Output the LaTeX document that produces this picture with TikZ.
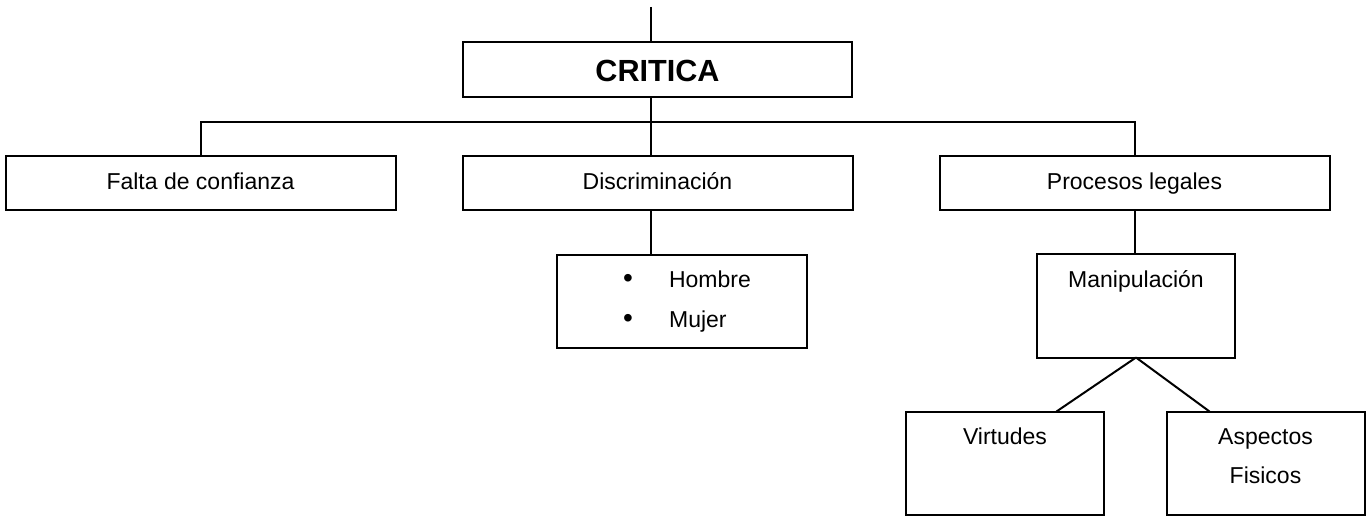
\documentclass[tikz,border=0pt]{standalone}
\usepackage{fontspec}
\setmainfont{Liberation Sans}
\usetikzlibrary{positioning}

\newcommand{\vineta}{\hspace*{5pt}\makebox[23pt][l]{\fontsize{14}{20}\selectfont\textbullet}}

\begin{document}
\begin{tikzpicture}[x=0.5pt,y=-0.5pt,line width=1pt,tema/.style={rectangle, draw, outer sep=0pt, minimum width=194.75pt, minimum height=27.5pt, text height=12.5pt, text depth=0pt, font=\fontsize{15.3}{18}\selectfont\bfseries},rama/.style={rectangle, draw, outer sep=0pt, minimum width=195pt, minimum height=27pt, text height=9pt, text depth=2pt, font=\fontsize{11.5}{14}\selectfont},puntos/.style={rectangle, draw, outer sep=0pt, minimum width=125pt, minimum height=46.5pt, align=left, font=\fontsize{11.5}{20}\selectfont},hoja/.style={rectangle, draw, outer sep=0pt, minimum width=99pt, inner ysep=0pt, text height=16.5pt, text depth=35.25pt, align=center, font=\fontsize{11.5}{19.5}\selectfont},]
                    \useasboundingbox (0,0) rectangle (1372,519);
                    \coordinate (entrada) at (651,7);
                    \coordinate (bus) at (651,122);
                    \node[tema] (critica) at (657.5,69.5) {CRITICA};
                    \node[rama, below=29.5pt of critica] (disc) {Discriminación};
                    \node[rama, left=33.5pt of disc] (falta) {Falta de confianza};
                    \node[rama, right=43.5pt of disc] (procesos) {Procesos legales};
                    \node[puntos, below=22.5pt of disc, xshift=12.25pt] (sexo) {\vineta Hombre\\\vineta Mujer};
                    \node[hoja, below=22pt of procesos, xshift=0.75pt] (manip) {Manipulación};
                    \node[hoja, below=27pt of manip, xshift=-65.5pt] (virtudes) {Virtudes};
                    \node[hoja, below=27pt of manip, xshift=64.75pt, text height=36pt, text depth=15.75pt] (aspectos) {Aspectos\\Fisicos};
                    \draw (entrada) -- (entrada |- critica.north);
                    \draw (entrada |- critica.south) -- (bus);
                    \draw (falta.north) |- (bus) -| (procesos.north);
                    \draw (bus) -- (bus |- disc.north);
                    \draw (bus |- disc.south) -- (bus |- sexo.north);
                    \draw (procesos.south) -- (procesos.south |- manip.north);
                    \draw (manip.south) -- ([xshift=25.75pt]virtudes.north);
                    \draw (manip.south) -- ([xshift=-28pt]aspectos.north);
                \end{tikzpicture}
\end{document}
